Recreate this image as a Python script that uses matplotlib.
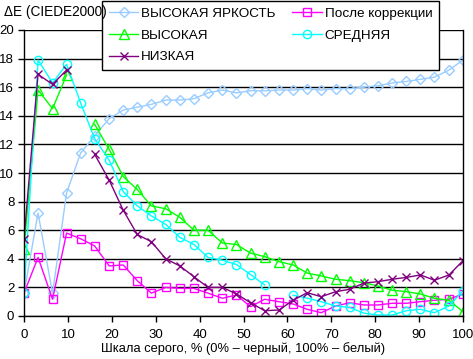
import numpy as np
import matplotlib
matplotlib.use("Agg")
import matplotlib.pyplot as plt

plt.rcParams['font.family'] = ['Liberation Sans', 'DejaVu Sans']

nan = np.nan

# уровни серого, %
gris = [0, 3.2, 6.5, 9.7, 12.9, 16.1, 19.4, 22.6, 25.8, 29.0, 32.3, 35.5,
        38.7, 41.9, 45.2, 48.4, 51.6, 54.8, 58.1, 61.3, 64.5, 67.7, 71.0,
        74.2, 77.4, 80.6, 83.9, 87.1, 90.3, 93.5, 96.8, 100]

muy_alto = [1.6, 7.2, 1.6, 8.6, 11.4, 12.6, 13.8, 14.4, 14.6, 14.8, 15.1, 15.1,
            15.2, 15.6, 15.8, 15.6, 15.75, 15.75, 15.8, 15.8, 15.9, 15.8, 15.9,
            15.9, 16.0, 16.1, 16.3, 16.4, 16.55, 16.7, 17.2, 17.9]
corregido = [1.6, 4.1, 1.17, 5.8, 5.4, 4.9, 3.5, 3.57, 2.47, 1.6, 2.0, 1.93,
             1.93, 1.6, 1.24, 1.47, 0.65, 1.17, 1.0, 0.84, 0.47, 0.23, 0.7,
             0.93, 0.77, 0.77, 0.89, 0.89, 1.0, 1.1, 1.17, 1.54]
alto = [4.7, 15.8, 14.5, 16.85, nan, 13.4, 11.65, 9.75, 8.85, 7.7, 7.5, 6.9,
        6.0, 6.0, 5.1, 5.0, 4.4, 4.15, 3.8, 3.57, 3.0, 2.8, 2.57, 2.47, 2.33,
        2.1, 1.8, 1.7, 1.54, 1.24, 1.1, 0.3]
medio = [1.6, 17.9, 16.3, 17.6, 14.9, 12.4, 10.9, 8.7, 7.7, 7.0, 6.4, 5.5,
         5.0, 4.1, 3.9, 3.6, 2.9, 2.17, nan, 1.45, 1.25, 1.0, 0.7, 0.6, 0.2,
         0.07, 0.07, 0.37, 0.47, 0.23, 0.7, 1.77]
bajo = [5.4, 16.9, 16.2, 17.2, nan, 11.3, 9.5, 7.4, 5.7, 5.2, 4.0, 3.5, 2.75,
        2.0, 2.0, 1.54, 0.93, 0.37, 0.42, 1.1, 1.63, 1.35, 1.7, 1.87, 2.3, 2.4,
        2.57, 2.7, 2.87, 2.5, 2.87, 3.87]

fig = plt.figure(figsize=(4.73, 3.59), dpi=100)
ax = fig.add_axes([24/473, 1-316/359, 439/473, 286/359])

lineas = []
lineas += ax.plot(gris, muy_alto, color='#99CCFF', lw=1, marker='D', ms=5.5,
                  mfc='none', mew=1, label='ВЫСОКАЯ ЯРКОСТЬ')
lineas += ax.plot(gris, corregido, color='#FF00FF', lw=1, marker='s', ms=6,
                  mfc='none', mew=1, label='После коррекции')
lineas += ax.plot(gris, alto, color='#00FF00', lw=1, marker='^', ms=7,
                  mfc='none', mew=1, label='ВЫСОКАЯ')
lineas += ax.plot(gris, medio, color='#00FFFF', lw=1, marker='o', ms=6,
                  mfc='none', mew=1, label='СРЕДНЯЯ')
lineas += ax.plot(gris, bajo, color='#800080', lw=1, marker='x', ms=5.5,
                  mew=1, label='НИЗКАЯ')

ax.set_xlim(0, 100)
ax.set_ylim(0, 20)
ax.set_xticks(range(0, 101, 10))
ax.set_yticks(range(0, 21, 2))
ax.grid(axis='y', color='black', lw=1)
ax.set_axisbelow(True)
ax.spines['top'].set_visible(False)
for s in ['left', 'bottom', 'right']:
    ax.spines[s].set_linewidth(1)
ax.tick_params(direction='out', length=4, width=1, labelsize=9.5, colors='black')
ax.tick_params(axis='y', pad=3)
ax.tick_params(axis='x', pad=5)

ax.set_xlabel('Шкала серого, % (0% – черный, 100% – белый)', fontsize=9.3,
              labelpad=1)
fig.text(4/473, 1-12/359, 'ΔE (CIEDE2000)', fontsize=9.8, va='center', ha='left')

orden = [lineas[0], lineas[2], lineas[4], lineas[1], lineas[3]]
leg = ax.legend(orden, [l.get_label() for l in orden], ncol=2,
                loc='upper left',
                bbox_to_anchor=(102/473, 1-1/359-0.1, 337/473, 0.1),
                bbox_transform=fig.transFigure, mode='expand', fontsize=9.7,
                frameon=True, fancybox=False, edgecolor='black', framealpha=1,
                borderaxespad=0, handlelength=2.2, handletextpad=0.2,
                labelspacing=0.68, borderpad=0.5, columnspacing=1.0)
leg.get_frame().set_linewidth(1)

fig.savefig('out.png', dpi=100)
